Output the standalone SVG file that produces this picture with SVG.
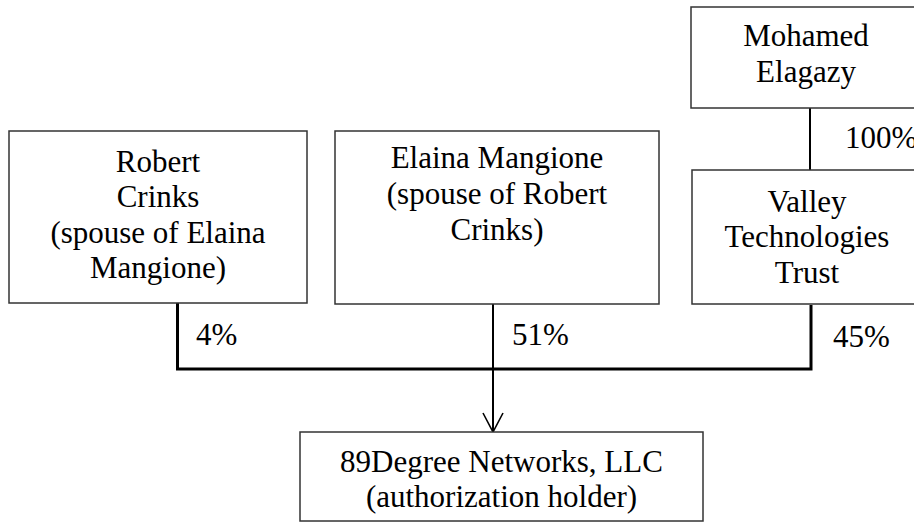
<svg xmlns="http://www.w3.org/2000/svg" width="914" height="531" viewBox="0 0 914 531" font-family="'Liberation Serif', 'Times New Roman', Times, serif">
<style>
.box{fill:#fff;stroke:#333;stroke-width:1.5}
.t{font-family:'Liberation Serif','Times New Roman',Times,serif;font-size:31px;fill:#000}
.c{text-anchor:middle}
.thick{stroke:#000;stroke-width:3;fill:none}
.thin{stroke:#000;stroke-width:2;fill:none}
</style>
<defs>
<marker id="arr" markerWidth="24" markerHeight="24" refX="20" refY="11" orient="auto" markerUnits="userSpaceOnUse" viewBox="0 0 24 24">
<path d="M1,1 L20,11 L1,21" fill="none" stroke="#000" stroke-width="1.6"/>
</marker>
</defs>
<g id="connectors">
<polyline class="thick" points="177.5,303 177.5,369 811,369 811,305"/>
<line class="thin" x1="810" y1="108" x2="810" y2="170"/>
<line class="thin" x1="493" y1="304" x2="493" y2="432" marker-end="url(#arr)"/>
<text class="t" x="196" y="345">4%</text>
<text class="t" x="512" y="345">51%</text>
<text class="t" x="833" y="347">45%</text>
<text class="t" x="845" y="148">100%</text>
</g>
<g id="robert">
<rect class="box" x="9" y="131" width="298" height="172"/>
<text class="t c" x="158" y="171.5">Robert</text>
<text class="t c" x="158" y="207">Crinks</text>
<text class="t c" x="158" y="242.5">(spouse of Elaina</text>
<text class="t c" x="158" y="278">Mangione)</text>
</g>
<g id="elaina">
<rect class="box" x="335" y="131" width="324" height="173"/>
<text class="t c" x="497" y="168">Elaina Mangione</text>
<text class="t c" x="497" y="204">(spouse of Robert</text>
<text class="t c" x="497" y="240">Crinks)</text>
</g>
<g id="mohamed">
<rect class="box" x="691" y="7" width="230" height="101"/>
<text class="t c" x="806" y="46">Mohamed</text>
<text class="t c" x="806" y="82">Elagazy</text>
</g>
<g id="valley">
<rect class="box" x="692" y="170" width="231" height="134"/>
<text class="t c" x="807" y="212">Valley</text>
<text class="t c" x="807" y="247">Technologies</text>
<text class="t c" x="807" y="283">Trust</text>
</g>
<g id="holder">
<rect class="box" x="300" y="432" width="403" height="89"/>
<text class="t c" x="501.5" y="472">89Degree Networks, LLC</text>
<text class="t c" x="501.5" y="507">(authorization holder)</text>
</g>
</svg>
